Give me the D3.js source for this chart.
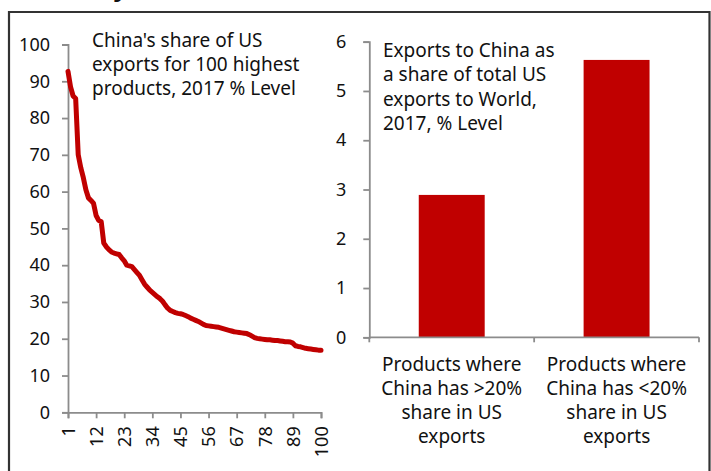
<!DOCTYPE html>
<html>
<head>
<meta charset="utf-8">
<script src="https://cdn.jsdelivr.net/npm/d3@7"></script>
<style>
  html, body { margin: 0; padding: 0; background: #fff; }
  svg { display: block; }
  text { font-family: "Noto Sans", "DejaVu Sans", sans-serif; fill: #111; }
</style>
</head>
<body>
<svg id="chart" width="711" height="471"></svg>
<script>
// China's share of US exports, top 100 products ranked (2017, %)
const productRank = d3.range(1, 101);
const chinaShare = [
  92.7, 88.5, 86.0, 85.3, 70.0, 66.5, 63.8, 60.5, 58.3, 57.6,
  56.8, 53.5, 52.2, 51.8, 46.0, 45.0, 44.2, 43.6, 43.3, 43.1,
  42.9, 42.0, 41.2, 40.0, 39.8, 39.6, 38.8, 38.0, 37.2, 36.0,
  34.8, 34.0, 33.2, 32.6, 32.0, 31.4, 30.9, 30.2, 29.2, 28.3,
  27.7, 27.4, 27.1, 26.9, 26.8, 26.6, 26.3, 26.0, 25.6, 25.3,
  25.0, 24.7, 24.3, 23.9, 23.6, 23.5, 23.4, 23.3, 23.2, 23.1,
  22.9, 22.7, 22.5, 22.3, 22.1, 21.9, 21.8, 21.7, 21.6, 21.5,
  21.4, 21.1, 20.7, 20.3, 20.1, 20.0, 19.9, 19.8, 19.7, 19.7,
  19.6, 19.5, 19.5, 19.4, 19.3, 19.2, 19.2, 19.1, 18.8, 18.1,
  17.9, 17.8, 17.6, 17.4, 17.3, 17.2, 17.1, 17.0, 16.9, 16.9
];
const rankTicks = [1, 12, 23, 34, 45, 56, 67, 78, 89, 100];
const shareTicks = [0, 10, 20, 30, 40, 50, 60, 70, 80, 90, 100];

// Exports to China as share of total US exports to World (2017, %)
const productGroups = [
  ["Products where", "China has >20%", "share in US", "exports"],
  ["Products where", "China has <20%", "share in US", "exports"]
];
const exportShare = [2.89, 5.63];
const exportTicks = [0, 1, 2, 3, 4, 5, 6];

const leftTitle = ["China's share of US", "exports for 100 highest", "products, 2017 % Level"];
const rightTitle = ["Exports to China as", "a share of total US", "exports to World,", "2017, % Level"];

const RED = "#c00000";
const AXIS = "#8c8c8c";

const svg = d3.select("#chart");

// heading fragment above the frame
svg.append("text")
  .attr("x", 112).attr("y", -3)
  .style("font-family", "DejaVu Sans")
  .style("font-weight", "bold")
  .style("font-size", "24px")
  .text("y");

// frame
svg.append("path")
  .attr("d", "M9,475 V12 H709.5 V475")
  .attr("fill", "none")
  .attr("stroke", "#333")
  .attr("stroke-width", 2.2);

// ---------- left panel: line ----------
const xL = d3.scaleLinear().domain([1, 100]).range([68, 321]);
const yL = d3.scaleLinear().domain([0, 100]).range([412.3, 44.5]);

const gL = svg.append("g");

const axisLeftL = d3.axisLeft(yL).tickValues(shareTicks).tickSize(6).tickPadding(12);
gL.append("g").attr("transform", `translate(${xL(1)},0)`).call(axisLeftL);
const axisBottomL = d3.axisBottom(xL).tickValues(rankTicks).tickSize(6).tickFormat(d3.format("d"));
const gxL = gL.append("g").attr("transform", `translate(0,${yL(0)})`).call(axisBottomL);

gxL.selectAll(".tick text")
  .attr("transform", "rotate(-90)")
  .attr("text-anchor", "end")
  .attr("x", -14)
  .attr("y", 0)
  .attr("dy", "0.35em");

gL.append("path")
  .datum(chinaShare)
  .attr("fill", "none")
  .attr("stroke", RED)
  .attr("stroke-width", 5)
  .attr("stroke-linejoin", "round")
  .attr("stroke-linecap", "round")
  .attr("d", d3.line().x((d, i) => xL(productRank[i])).y(d => yL(d)));

gL.append("text")
  .attr("x", 92).attr("y", 47)
  .style("font-size", "19px")
  .selectAll("tspan").data(leftTitle).join("tspan")
  .attr("x", 92).attr("dy", (d, i) => i ? 24 : 0)
  .text(d => d);

// ---------- right panel: bars ----------
const xR = d3.scaleBand().domain(d3.range(exportShare.length)).range([369.3, 699])
  .paddingInner(0.6).paddingOuter(0.3);
const yR = d3.scaleLinear().domain([0, 6]).range([337.3, 41.7]);

const gR = svg.append("g");

gR.append("g").attr("transform", "translate(369.3,0)")
  .call(d3.axisLeft(yR).tickValues(exportTicks).tickSize(6).tickPadding(17).tickFormat(d3.format("d")));

gR.selectAll("rect.bar").data(exportShare).join("rect")
  .attr("class", "bar")
  .attr("x", (d, i) => xR(i))
  .attr("width", xR.bandwidth())
  .attr("y", d => yR(d))
  .attr("height", d => yR(0) - yR(d))
  .attr("fill", RED);

// category axis with ticks on the category boundaries
const step = xR.step();
const bounds = d3.range(exportShare.length + 1).map(i => 369.3 + i * step);
const gxR = gR.append("g").attr("class", "xaxis");
gxR.append("line")
  .attr("x1", bounds[0]).attr("x2", bounds[bounds.length - 1])
  .attr("y1", yR(0)).attr("y2", yR(0));
gxR.selectAll("line.tk").data(bounds).join("line")
  .attr("class", "tk")
  .attr("x1", d => d).attr("x2", d => d)
  .attr("y1", yR(0)).attr("y2", yR(0) + 5);
gxR.selectAll("line").attr("stroke", AXIS).attr("stroke-width", 1.8);

gxR.selectAll("text.cat").data(productGroups).join("text")
  .attr("class", "cat")
  .attr("text-anchor", "middle")
  .attr("y", 370.7)
  .style("font-size", "19px")
  .each(function (lines, i) {
    const cx = xR(i) + xR.bandwidth() / 2;
    d3.select(this).selectAll("tspan").data(lines).join("tspan")
      .attr("x", cx).attr("dy", (d, j) => j ? 24.2 : 0)
      .text(d => d);
  });

gR.append("text")
  .attr("x", 383).attr("y", 56.7)
  .style("font-size", "19px")
  .selectAll("tspan").data(rightTitle).join("tspan")
  .attr("x", 383).attr("dy", (d, i) => i ? 24.4 : 0)
  .text(d => d);

// shared axis styling
svg.selectAll(".domain").attr("stroke", AXIS).attr("stroke-width", 1.8);
svg.selectAll(".tick line").attr("stroke", AXIS).attr("stroke-width", 1.8);
svg.selectAll(".tick text").style("font-size", "18px").attr("fill", "#111");
</script>
</body>
</html>
